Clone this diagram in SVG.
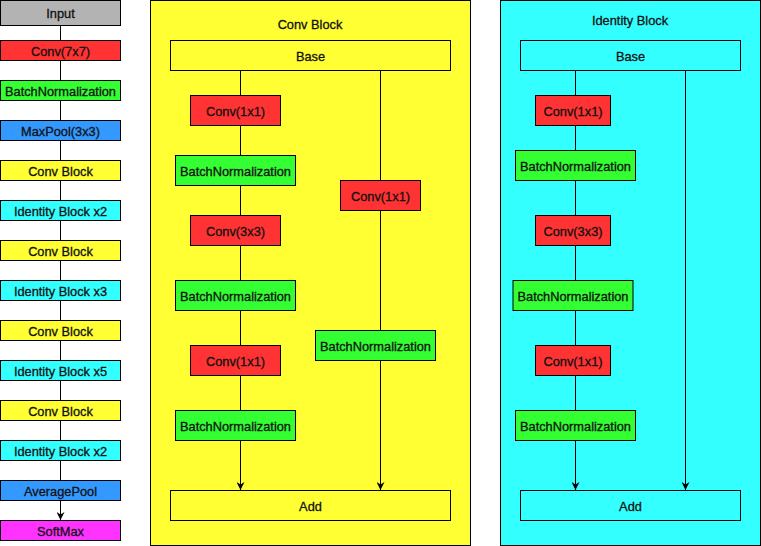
<svg xmlns="http://www.w3.org/2000/svg" width="761" height="546" viewBox="0 0 761 546">
<defs>
<marker id="arr" viewBox="0 0 10 10" refX="10" refY="5" markerWidth="8" markerHeight="8" markerUnits="userSpaceOnUse" orient="auto">
<path d="M0,0 L10,5 L0,10 L3,5 Z" fill="#000"/>
</marker>
</defs>
<style>
rect{stroke:#000;stroke-width:1}
text{font-family:"Liberation Sans",Arial,sans-serif;font-size:12.8px;fill:#111;stroke:#111;stroke-width:0.3;text-anchor:middle}
.gray{fill:#B3B3B3}.red{fill:#FF3333}.green{fill:#33FF33}.blue{fill:#3399FF}.yellow{fill:#FFFF33}.cyan{fill:#33FFFF}.mag{fill:#FF33FF}
.ln{stroke:#000;stroke-width:1;fill:none}
</style>
<g id="containers">
<g id="conv-block-container"><rect class="yellow" x="150.5" y="0.5" width="320" height="545"/><text x="310" y="28.5">Conv Block</text></g>
<g id="identity-block-container"><rect class="cyan" x="500.5" y="0.5" width="260" height="545"/><text x="630" y="25">Identity Block</text></g>
</g>
<g id="connectors">
<path class="ln" d="M60.5,25 V40 M60.5,60 V80 M60.5,100 V120 M60.5,140 V160 M60.5,180 V200 M60.5,220 V240 M60.5,260 V280 M60.5,300 V320 M60.5,340 V360 M60.5,380 V400 M60.5,420 V440 M60.5,460 V480"/>
<path class="ln" d="M60.5,500 V520" marker-end="url(#arr)"/>
<path class="ln" d="M240.5,70 V95 M240.5,125 V155 M240.5,185 V215 M240.5,245 V280 M240.5,310 V345 M240.5,375 V410"/>
<path class="ln" d="M240.5,440 V490" marker-end="url(#arr)"/>
<path class="ln" d="M380.5,70 V180 M380.5,210 V330"/>
<path class="ln" d="M380.5,360 V490" marker-end="url(#arr)"/>
<path class="ln" d="M575.5,70 V95 M575.5,125 V150 M575.5,180 V215 M575.5,245 V280 M575.5,310 V345 M575.5,375 V410"/>
<path class="ln" d="M575.5,440 V490" marker-end="url(#arr)"/>
<path class="ln" d="M685.5,70 V490" marker-end="url(#arr)"/>
</g>
<g id="n-input"><rect class="gray" x="0.5" y="0.5" width="120" height="25"/><text x="60.5" y="17.5">Input</text></g>
<g id="n-conv7"><rect class="red" x="0.5" y="40.5" width="120" height="20"/><text x="60.5" y="55.5">Conv(7x7)</text></g>
<g id="n-bn"><rect class="green" x="0.5" y="80.5" width="120" height="20"/><text x="60.5" y="95.5">BatchNormalization</text></g>
<g id="n-maxpool"><rect class="blue" x="0.5" y="120.5" width="120" height="20"/><text x="60.5" y="135.5">MaxPool(3x3)</text></g>
<g id="n-cb1"><rect class="yellow" x="0.5" y="160.5" width="120" height="20"/><text x="60.5" y="175.5">Conv Block</text></g>
<g id="n-ib1"><rect class="cyan" x="0.5" y="200.5" width="120" height="20"/><text x="60.5" y="215.5">Identity Block x2</text></g>
<g id="n-cb2"><rect class="yellow" x="0.5" y="240.5" width="120" height="20"/><text x="60.5" y="255.5">Conv Block</text></g>
<g id="n-ib2"><rect class="cyan" x="0.5" y="280.5" width="120" height="20"/><text x="60.5" y="295.5">Identity Block x3</text></g>
<g id="n-cb3"><rect class="yellow" x="0.5" y="320.5" width="120" height="20"/><text x="60.5" y="335.5">Conv Block</text></g>
<g id="n-ib3"><rect class="cyan" x="0.5" y="360.5" width="120" height="20"/><text x="60.5" y="375.5">Identity Block x5</text></g>
<g id="n-cb4"><rect class="yellow" x="0.5" y="400.5" width="120" height="20"/><text x="60.5" y="415.5">Conv Block</text></g>
<g id="n-ib4"><rect class="cyan" x="0.5" y="440.5" width="120" height="20"/><text x="60.5" y="455.5">Identity Block x2</text></g>
<g id="n-avgpool"><rect class="blue" x="0.5" y="480.5" width="120" height="20"/><text x="60.5" y="495.5">AveragePool</text></g>
<g id="n-softmax"><rect class="mag" x="0.5" y="520.5" width="120" height="20"/><text x="60.5" y="535.5">SoftMax</text></g>

<g id="c-base"><rect class="yellow" x="170.5" y="40.5" width="280" height="30"/><text x="310.5" y="60.5">Base</text></g>
<g id="c-conv1a"><rect class="red" x="190.5" y="95.5" width="90" height="30"/><text x="235.5" y="115.5">Conv(1x1)</text></g>
<g id="c-bn1"><rect class="green" x="175.5" y="155.5" width="120" height="30"/><text x="235.5" y="175.5">BatchNormalization</text></g>
<g id="c-conv3"><rect class="red" x="190.5" y="215.5" width="90" height="30"/><text x="235.5" y="235.5">Conv(3x3)</text></g>
<g id="c-bn2"><rect class="green" x="175.5" y="280.5" width="120" height="30"/><text x="235.5" y="300.5">BatchNormalization</text></g>
<g id="c-conv1b"><rect class="red" x="190.5" y="345.5" width="90" height="30"/><text x="235.5" y="365.5">Conv(1x1)</text></g>
<g id="c-bn3"><rect class="green" x="175.5" y="410.5" width="120" height="30"/><text x="235.5" y="430.5">BatchNormalization</text></g>
<g id="c-conv1s"><rect class="red" x="340.5" y="180.5" width="80" height="30"/><text x="380.5" y="200.5">Conv(1x1)</text></g>
<g id="c-bns"><rect class="green" x="315.5" y="330.5" width="120" height="30"/><text x="375.5" y="350.5">BatchNormalization</text></g>
<g id="c-add"><rect class="yellow" x="170.5" y="490.5" width="280" height="30"/><text x="310.5" y="510.5">Add</text></g>

<g id="i-base"><rect class="cyan" x="520.5" y="40.5" width="220" height="30"/><text x="630.5" y="60.5">Base</text></g>
<g id="i-conv1a"><rect class="red" x="535.5" y="95.5" width="75" height="30"/><text x="573" y="115.5">Conv(1x1)</text></g>
<g id="i-bn1"><rect class="green" x="515.5" y="150.5" width="120" height="30"/><text x="575.5" y="170.5">BatchNormalization</text></g>
<g id="i-conv3"><rect class="red" x="535.5" y="215.5" width="75" height="30"/><text x="573" y="235.5">Conv(3x3)</text></g>
<g id="i-bn2"><rect class="green" x="513" y="280.5" width="120" height="30"/><text x="573" y="300.5">BatchNormalization</text></g>
<g id="i-conv1b"><rect class="red" x="535.5" y="345.5" width="75" height="30"/><text x="573" y="365.5">Conv(1x1)</text></g>
<g id="i-bn3"><rect class="green" x="515.5" y="410.5" width="120" height="30"/><text x="575.5" y="430.5">BatchNormalization</text></g>
<g id="i-add"><rect class="cyan" x="520.5" y="490.5" width="220" height="30"/><text x="630.5" y="510.5">Add</text></g>
</svg>
